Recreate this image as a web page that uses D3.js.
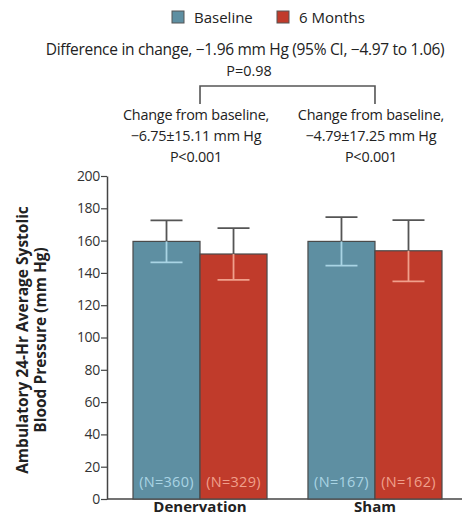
<!DOCTYPE html>
<html>
<head>
<meta charset="utf-8">
<script src="https://cdn.jsdelivr.net/npm/d3@7"></script>
<style>
  body { margin: 0; background: #fff; }
  text { font-family: "Open Sans", "Noto Sans", sans-serif; fill: #222; }
</style>
</head>
<body>
<svg id="chart" width="462" height="519"></svg>
<script>
const groups = ["Denervation", "Sham"];
const series = ["Baseline", "6 Months"];
const means = [[159.5, 151.7], [159.5, 153.7]];
const sds = [[13, 16], [15, 19]];
const counts = [["(N=360)", "(N=329)"], ["(N=167)", "(N=162)"]];
const yTicks = [0, 20, 40, 60, 80, 100, 120, 140, 160, 180, 200];
const changeText = [
  ["Change from baseline,", "\u22126.75\u00b115.11 mm Hg", "P<0.001"],
  ["Change from baseline,", "\u22124.79\u00b117.25 mm Hg", "P<0.001"]
];

const fills = ["#5e8fa2", "#c03b2b"];
const lowColors = ["#a9d4e4", "#f0a08c"];
const svg = d3.select("#chart");

const y = d3.scaleLinear().domain([0, 200]).range([499, 176]);
const x = d3.scaleBand().domain(groups).range([133, 442]).paddingInner(0.234);
const xs = d3.scaleBand().domain(series).range([0, x.bandwidth()]);

// y axis
const yAxis = svg.append("g")
  .attr("transform", "translate(107,0)")
  .call(d3.axisLeft(y).tickValues(yTicks).tickSize(6).tickSizeOuter(0));
yAxis.select(".domain").attr("stroke", "#444").attr("stroke-width", 1.5);
yAxis.selectAll(".tick line").attr("stroke", "#444").attr("stroke-width", 1.2);
yAxis.selectAll(".tick text")
  .attr("x", -7)
  .style("font-family", "'Open Sans', sans-serif")
  .style("font-size", "14px")
  .style("letter-spacing", "-0.3px")
  .style("fill", "#333");

// x baseline
svg.append("line")
  .attr("x1", 107).attr("x2", 462)
  .attr("y1", y(0)).attr("y2", y(0))
  .attr("stroke", "#444").attr("stroke-width", 1.5);

// bars
groups.forEach((g, gi) => {
  series.forEach((s, si) => {
    const bx = x(g) + xs(s);
    const bw = xs.bandwidth();
    const m = means[gi][si], sd = sds[gi][si];
    const cx = bx + bw / 2;
    svg.append("rect")
      .attr("x", bx).attr("y", y(m))
      .attr("width", bw).attr("height", y(0) - y(m))
      .attr("fill", fills[si])
      .attr("stroke", "#4a4a4a").attr("stroke-width", 1.2);
    // upper error bar
    svg.append("line")
      .attr("x1", cx).attr("x2", cx)
      .attr("y1", y(m)).attr("y2", y(m + sd))
      .attr("stroke", "#555").attr("stroke-width", 1.8);
    svg.append("line")
      .attr("x1", cx - 16).attr("x2", cx + 16)
      .attr("y1", y(m + sd)).attr("y2", y(m + sd))
      .attr("stroke", "#555").attr("stroke-width", 1.8);
    // lower error bar
    svg.append("line")
      .attr("x1", cx).attr("x2", cx)
      .attr("y1", y(m)).attr("y2", y(m - sd))
      .attr("stroke", lowColors[si]).attr("stroke-width", 1.8);
    svg.append("line")
      .attr("x1", cx - 16).attr("x2", cx + 16)
      .attr("y1", y(m - sd)).attr("y2", y(m - sd))
      .attr("stroke", lowColors[si]).attr("stroke-width", 1.8);
    // N labels
    svg.append("text")
      .attr("x", cx).attr("y", y(0) - 12)
      .attr("text-anchor", "middle")
      .style("font-size", "14.5px")
      .style("letter-spacing", "0.3px")
      .style("fill", lowColors[si])
      .text(counts[gi][si]);
  });
  // category label
  svg.append("text")
    .attr("x", x(g) + x.bandwidth() / 2).attr("y", 512)
    .attr("text-anchor", "middle")
    .style("font-size", "15px")
    .style("font-weight", "bold")
    .text(g);
  // change annotation
  changeText[gi].forEach((t, ti) => {
    svg.append("text")
      .attr("x", x(g) + x.bandwidth() / 2 - 4).attr("y", 120 + ti * 21)
      .attr("text-anchor", "middle")
      .style("font-size", "14.4px")
      .style("letter-spacing", "-0.2px")
      .text(t);
  });
});

// bracket
const bl = x(groups[0]) + x.bandwidth() / 2;
const br = x(groups[1]) + x.bandwidth() / 2;
svg.append("path")
  .attr("d", `M${bl},104V86H${br}V104`)
  .attr("fill", "none").attr("stroke", "#555").attr("stroke-width", 1.6);

// difference text
svg.append("text")
  .attr("x", 245).attr("y", 55)
  .attr("text-anchor", "middle")
  .style("font-size", "15.5px")
  .style("letter-spacing", "-0.3px")
  .text("Difference in change, \u22121.96 mm Hg (95% CI, \u22124.97 to 1.06)");
svg.append("text")
  .attr("x", 249).attr("y", 76)
  .attr("text-anchor", "middle")
  .style("font-size", "14.4px")
  .text("P=0.98");

// legend
const legX = [172, 277];
series.forEach((s, si) => {
  svg.append("rect")
    .attr("x", legX[si]).attr("y", 11)
    .attr("width", 12).attr("height", 12)
    .attr("fill", fills[si]).attr("stroke", "#555").attr("stroke-width", 1);
  svg.append("text")
    .attr("x", legX[si] + 22).attr("y", 22.5)
    .style("font-size", "15px")
    .text(s);
});

// y axis title
const yt = svg.append("text")
  .attr("transform", "translate(28,340) rotate(-90)")
  .attr("text-anchor", "middle")
  .style("font-size", "15.5px")
  .style("font-weight", "bold");
yt.append("tspan").attr("x", 0).attr("dy", 0).text("Ambulatory 24-Hr Average Systolic");
yt.append("tspan").attr("x", 0).attr("dy", 18).text("Blood Pressure (mm Hg)");
</script>
</body>
</html>
